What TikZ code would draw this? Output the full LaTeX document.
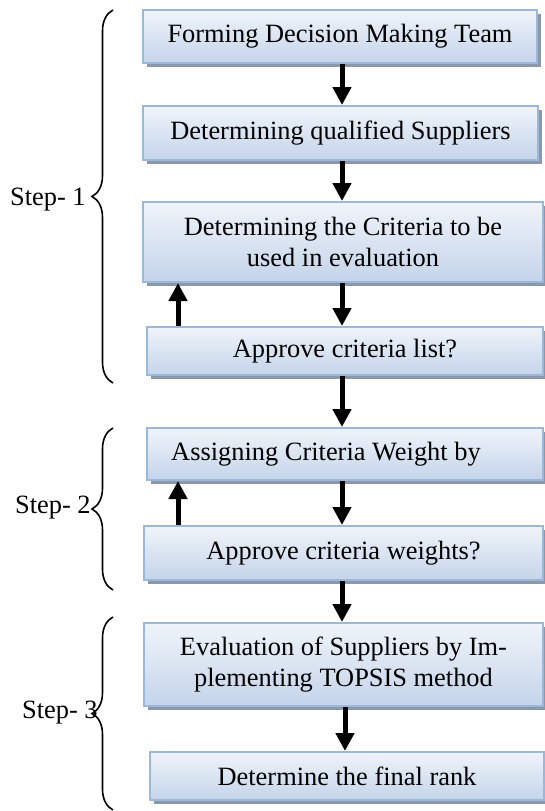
\documentclass[tikz,border=0pt]{standalone}
\usepackage{fontspec}
\setmainfont{Liberation Serif}
\usetikzlibrary{arrows.meta,shadows,decorations.pathreplacing}
\definecolor{boxtop}{HTML}{F0F4FA}
\definecolor{boxbottom}{HTML}{C4D4EA}
\definecolor{boxline}{HTML}{9BB7DA}
\definecolor{boxshadow}{HTML}{8C98A8}
\tikzset{
  stagebox/.style={draw=boxline, line width=1pt, top color=boxtop, bottom color=boxbottom,
                   inner sep=0pt, align=center, font=\fontsize{13.2}{15.5}\selectfont,
                   drop shadow={shadow xshift=2pt, shadow yshift=-2pt, fill=boxshadow, opacity=1}},
  flowarrow/.style={-{Triangle[length=9pt, width=9pt]}, line width=2.5pt},
  stepbrace/.style={decorate, decoration={brace, amplitude=10.5pt}, line width=0.8pt},
  steplabel/.style={anchor=east, inner sep=0pt, font=\fontsize{13.2}{15.5}\selectfont},
}

\begin{document}
\begin{tikzpicture}[x=0.5pt, y=-0.5pt]
    \useasboundingbox (0,0) rectangle (545,811);
    \node[stagebox, minimum width=197pt, minimum height=26.5pt] (b1) at (340,36.5) {Forming Decision Making Team};
    \node[stagebox, minimum width=197.5pt, minimum height=27pt] (b2) at (340.5,133) {Determining qualified Suppliers};
    \node[stagebox, minimum width=200pt, minimum height=40pt] (b3) at (343,242) {Determining the Criteria to be\\used in evaluation};
    \node[stagebox, minimum width=198pt, minimum height=24pt] (b4) at (345,351) {Approve criteria list?};
    \node[stagebox, minimum width=198pt, minimum height=26pt] (b5) at (345,454) {Assigning Criteria Weight by\hspace*{19pt}};
    \node[stagebox, minimum width=199.5pt, minimum height=27pt] (b6) at (343.5,553) {Approve criteria weights?};
    \node[stagebox, minimum width=199.5pt, minimum height=41.5pt] (b7) at (343.5,664.5) {Evaluation of Suppliers by Im-\\plementing TOPSIS method};
    \node[stagebox, minimum width=197pt, minimum height=24pt] (b8) at (347,776) {Determine the final rank};
    \coordinate (ax) at (342,0);
    \coordinate (bx) at (178,0);
    \coordinate (cx) at (345,0);
    \draw[flowarrow] (b1.south -| ax) -- (b2.north -| ax);
    \draw[flowarrow] (b2.south -| ax) -- (b3.north -| ax);
    \draw[flowarrow] (b3.south -| ax) -- (b4.north -| ax);
    \draw[flowarrow] (b4.south -| ax) -- (b5.north -| ax);
    \draw[flowarrow] (b5.south -| ax) -- (b6.north -| ax);
    \draw[flowarrow] (b6.south -| ax) -- (b7.north -| ax);
    \draw[flowarrow] (b7.south -| cx) -- (b8.north -| cx);
    \draw[flowarrow] (b4.north -| bx) -- (b3.south -| bx);
    \draw[flowarrow] (b6.north -| bx) -- (b5.south -| bx);
    \draw[stepbrace] (113,383) -- (113,10);
    \draw[stepbrace] (113,590) -- (113,428);
    \draw[stepbrace] (113,810) -- (113,617);
    \node[steplabel] (s1) at (86,200) {Step- 1};
    \node[steplabel] (s2) at (91,508) {Step- 2};
    \node[steplabel] (s3) at (98,713) {Step- 3};
  \end{tikzpicture}
\end{document}
